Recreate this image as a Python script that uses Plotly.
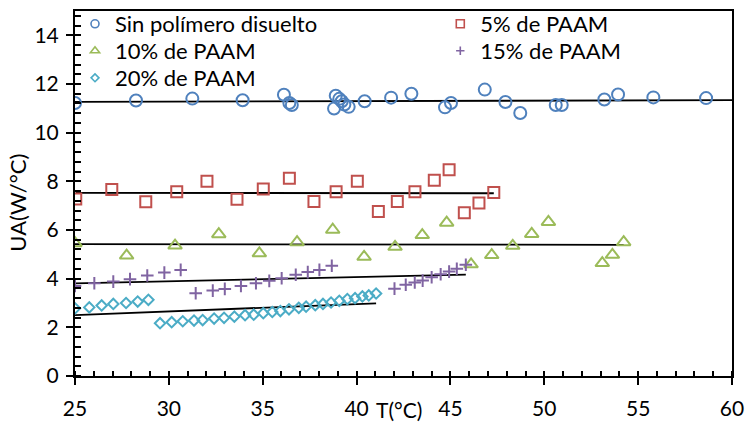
import numpy as np
import plotly.graph_objects as go

# ---------------- data ----------------
series_names = ["Sin polímero disuelto", "5% de PAAM", "10% de PAAM",
                 "15% de PAAM", "20% de PAAM"]

t_sin = [25.0, 28.25, 31.25, 33.93, 36.13, 36.42, 36.55, 38.89, 38.80, 39.08,
         39.21, 39.35, 39.58, 40.43, 41.84, 42.92, 44.71, 45.03, 46.83, 47.93,
         48.72, 50.61, 50.93, 53.20, 53.93, 55.81, 58.62]
ua_sin = [11.22, 11.32, 11.40, 11.33, 11.56, 11.22, 11.14, 11.52, 10.99, 11.39,
          11.29, 11.16, 11.06, 11.29, 11.44, 11.60, 11.04, 11.22, 11.77, 11.26,
          10.81, 11.14, 11.14, 11.36, 11.57, 11.45, 11.42]

t_5 = [25.04, 26.96, 28.77, 30.42, 32.03, 33.63, 35.03, 36.42, 37.73, 38.91,
       40.04, 41.16, 42.17, 43.11, 44.14, 44.93, 45.74, 46.52, 47.31]
ua_5 = [7.27, 7.66, 7.16, 7.57, 8.00, 7.26, 7.68, 8.13, 7.17, 7.57,
        8.00, 6.76, 7.17, 7.57, 8.04, 8.48, 6.71, 7.11, 7.54]

t_10 = [25.0, 27.75, 30.33, 32.66, 34.82, 36.83, 38.73, 40.40, 42.05, 43.50,
        44.80, 46.10, 47.20, 48.32, 49.33, 50.22, 53.09, 53.63, 54.23]
ua_10 = [5.46, 4.95, 5.36, 5.83, 5.04, 5.50, 6.01, 4.90, 5.31, 5.79,
         6.30, 4.59, 4.97, 5.35, 5.84, 6.33, 4.64, 4.98, 5.50]

t_15 = [25.0, 26.03, 27.04, 27.93, 28.85, 29.76, 30.63, 31.43, 32.34, 32.98,
        33.84, 34.64, 35.35, 36.01, 36.76, 37.40, 38.02, 38.68, 42.02, 42.62,
        43.10, 43.52, 44.00, 44.48, 44.93, 45.34, 45.82]
ua_15 = [3.70, 3.81, 3.88, 3.98, 4.13, 4.25, 4.36, 3.40, 3.51, 3.58,
         3.70, 3.81, 3.91, 4.02, 4.16, 4.27, 4.36, 4.53, 3.59, 3.75,
         3.84, 3.92, 4.06, 4.18, 4.29, 4.41, 4.57]

t_20 = [25.0, 25.76, 26.42, 27.04, 27.72, 28.34, 28.91, 29.53, 30.15, 30.74,
        31.34, 31.80, 32.41, 32.94, 33.49, 34.06, 34.52, 35.03, 35.51, 35.94,
        36.40, 36.92, 37.31, 37.80, 38.21, 38.64, 39.08, 39.51, 39.92, 40.31,
        40.65, 41.04]
ua_20 = [2.78, 2.82, 2.90, 2.96, 3.00, 3.06, 3.13, 2.17, 2.21, 2.25,
         2.28, 2.30, 2.36, 2.39, 2.44, 2.50, 2.52, 2.58, 2.63, 2.67,
         2.74, 2.80, 2.85, 2.91, 2.96, 3.02, 3.09, 3.16, 3.20, 3.27,
         3.31, 3.39]

# linear trendline forward forecast (x units) per series
trend_forward = [1.38, 0, 0, 0, 0]

x_ticks = [25, 30, 35, 40, 45, 50, 55, 60]
y_ticks = [0, 2, 4, 6, 8, 10, 12, 14]

# ---------------- styling ----------------
colors = ["#4F81BD", "#C0504D", "#9BBB59", "#8064A2", "#4BACC6"]
symbols = ["circle-open", "square-open", "triangle-up-open", "cross-thin-open", "diamond-open"]
sizes = [12, 11, 12, 9, 8]
legend_sizes = [8, 8, 8, 6, 6]
FONT = "Lato"

# one small legend box per entry (2-column layout as in the reference)
legend_ids = ["legend", "legend2", "legend3", "legend4", "legend5"]
legend_x = [0.0, 0.556, 0.0, 0.556, 0.0]
legend_y = [0.9644, 0.9644, 0.8904, 0.8904, 0.8164]

xs = [t_sin, t_5, t_10, t_15, t_20]
ys = [ua_sin, ua_5, ua_10, ua_15, ua_20]

fig = go.Figure()

# trendlines (least-squares fit, as in the spreadsheet)
for x, y, fwd in zip(xs, ys, trend_forward):
    m, b = np.polyfit(x, y, 1)
    tx = np.array([min(x), max(x) + fwd])
    fig.add_trace(go.Scatter(x=tx, y=m * tx + b, mode="lines",
                             line=dict(color="black", width=1.8),
                             showlegend=False, hoverinfo="skip"))

# data markers
for i, (x, y) in enumerate(zip(xs, ys)):
    fig.add_trace(go.Scatter(
        x=x, y=y, mode="markers", name=series_names[i], showlegend=False,
        marker=dict(symbol=symbols[i], size=sizes[i], color=colors[i],
                    line=dict(color=colors[i], width=2))))

# legend entries (smaller symbols, as in the reference legend)
for i in range(5):
    fig.add_trace(go.Scatter(
        x=[None], y=[None], mode="markers", name=series_names[i],
        legend=legend_ids[i],
        marker=dict(symbol=symbols[i], size=legend_sizes[i], color=colors[i],
                    line=dict(color=colors[i], width=1.6))))

axis_common = dict(showgrid=False, zeroline=False, showline=True,
                   linecolor="black", linewidth=2, mirror=True, automargin=False,
                   ticks="outside", tickcolor="black", tickwidth=1.5,
                   ticklen=7, tickfont=dict(family=FONT, size=21, color="black"))

fig.update_xaxes(range=[25, 60], tickvals=x_ticks,
                 ticktext=[str(v) for v in x_ticks],
                 minor=dict(dtick=1, tick0=25, ticks="inside", ticklen=5,
                            tickcolor="black", tickwidth=1.5),
                 ticklabelstandoff=6, **axis_common)
fig.update_yaxes(range=[0, 15], tickvals=y_ticks,
                 ticktext=[str(v) for v in y_ticks],
                 minor=dict(dtick=0.4, tick0=0, ticks="inside", ticklen=6,
                            tickcolor="black", tickwidth=1.5),
                 ticklabelstandoff=3, **axis_common)

legend_common = dict(bgcolor="rgba(0,0,0,0)", borderwidth=0,
                     font=dict(family=FONT, size=22, color="black"),
                     orientation="v", xanchor="left", yanchor="middle",
                     itemwidth=30)
layout_legends = {lid: dict(x=lx, y=ly, **legend_common)
                  for lid, lx, ly in zip(legend_ids, legend_x, legend_y)}

fig.update_layout(
    width=748, height=422,
    margin=dict(l=75, r=16, t=11, b=46, autoexpand=False),
    paper_bgcolor="white", plot_bgcolor="white",
    font=dict(family=FONT, size=21, color="black"),
    annotations=[
        dict(text="T(°C)", xref="paper", yref="paper", x=0.5, y=0,
             xshift=-5, yshift=-33, showarrow=False, xanchor="center", yanchor="middle",
             font=dict(family=FONT, size=21, color="black")),
        dict(text="UA(W/°C)", xref="paper", yref="paper", x=0, y=0.475,
             xshift=-57, textangle=-90, showarrow=False,
             xanchor="center", yanchor="middle",
             font=dict(family=FONT, size=22, color="black")),
    ],
    **layout_legends,
)

fig.write_html("out.html", config={"displayModeBar": False},
               post_script="document.body.style.margin='0';document.body.style.overflow='hidden';")
